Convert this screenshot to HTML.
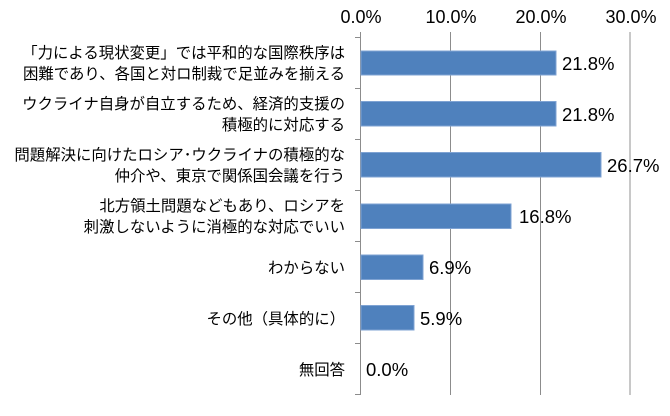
<!DOCTYPE html>
<html><head><meta charset="utf-8"><style>
body{margin:0;background:#fff;}
svg text{font-family:"Liberation Sans","Noto Sans CJK JP",sans-serif;fill:#000;}
</style></head><body>
<svg width="670" height="411" xmlns="http://www.w3.org/2000/svg">
<g stroke="#8c8c8c" stroke-width="1">
<line x1="450.5" y1="32" x2="450.5" y2="395"/>
<line x1="540.5" y1="32" x2="540.5" y2="395"/>
</g>
<line x1="630" y1="32" x2="630" y2="395" stroke="#c8c8c8" stroke-width="2"/>
<g stroke="#8c8c8c" stroke-width="1">
<line x1="360.5" y1="32" x2="360.5" y2="395"/>
<line x1="355" y1="37.5" x2="360" y2="37.5"/>
<line x1="355" y1="88.5" x2="360" y2="88.5"/>
<line x1="355" y1="139.5" x2="360" y2="139.5"/>
<line x1="355" y1="190.5" x2="360" y2="190.5"/>
<line x1="355" y1="241.5" x2="360" y2="241.5"/>
<line x1="355" y1="292.5" x2="360" y2="292.5"/>
<line x1="355" y1="343.5" x2="360" y2="343.5"/>
<line x1="355" y1="394.5" x2="360" y2="394.5"/>
</g>
<g font-size="18" text-anchor="middle">
<text x="361" y="23">0.0%</text>
<text x="451" y="23">10.0%</text>
<text x="541" y="23">20.0%</text>
<text x="631" y="23">30.0%</text>
</g>
<g fill="#4f81bd" stroke="#7fa3d3" stroke-width="1">
<rect x="361" y="51" width="195" height="24"/>
<rect x="361" y="101.5" width="195" height="24.5"/>
<rect x="361" y="152.5" width="240" height="24.5"/>
<rect x="361" y="204" width="150" height="24.5"/>
<rect x="361" y="255" width="62" height="24.5"/>
<rect x="361" y="305.5" width="53" height="24.5"/>
</g>
<g font-size="18.5">
<text x="562" y="70">21.8%</text>
<text x="562" y="121">21.8%</text>
<text x="607" y="172">26.7%</text>
<text x="519" y="223">16.8%</text>
<text x="429" y="274">6.9%</text>
<text x="420" y="325">5.9%</text>
<text x="366" y="376">0.0%</text>
</g>
<g font-size="15.4" text-anchor="end">
<text x="345" y="58">「力による現状変更」では平和的な国際秩序は</text>
<text x="345" y="79">困難であり、各国と対ロ制裁で足並みを揃える</text>
<text x="345" y="109">ウクライナ自身が自立するため、経済的支援の</text>
<text x="345" y="130">積極的に対応する</text>
<text x="345" y="160">問題解決に向けたロシア･ウクライナの積極的な</text>
<text x="345" y="181">仲介や、東京で関係国会議を行う</text>
<text x="345" y="211">北方領土問題などもあり、ロシアを</text>
<text x="345" y="232">刺激しないように消極的な対応でいい</text>
<text x="345" y="273">わからない</text>
<text x="345" y="324">その他（具体的に）</text>
<text x="345" y="375">無回答</text>
</g>
</svg>
</body></html>
